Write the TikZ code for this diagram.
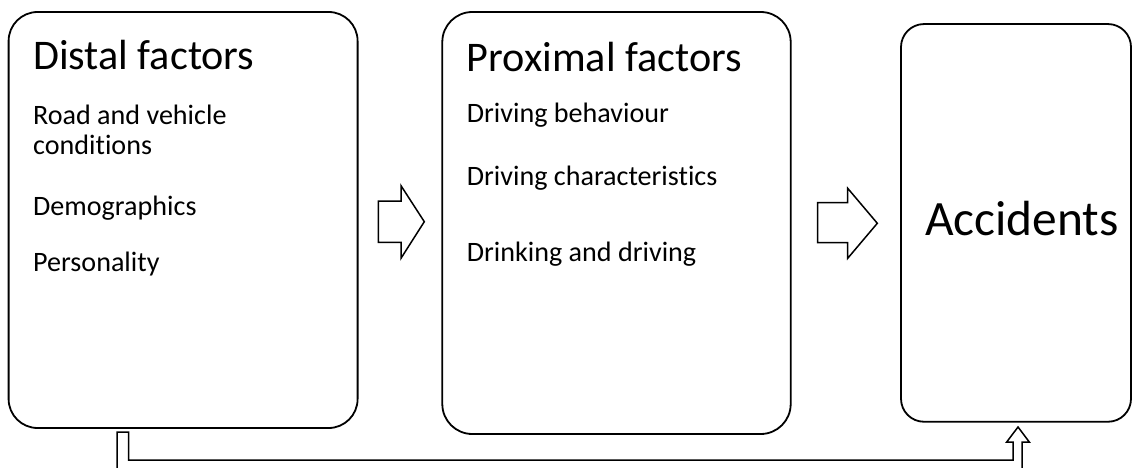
\documentclass[tikz,border=0pt]{standalone}
\usepackage{fontspec}
\setmainfont{Carlito}[Ligatures={NoCommon}]
\begin{document}
\begin{tikzpicture}[x=1pt,y=-1pt,
  box/.style={draw, line width=1.8pt, inner sep=0pt},
  title/.style={anchor=base west, inner sep=0pt, font=\fontsize{42.2}{48}\selectfont},
  item/.style={anchor=base west, inner sep=0pt, font=\fontsize{28.1}{31}\selectfont},
  blockarrow/.style={draw, line width=1.5pt, line join=miter, fill=white}]
\useasboundingbox (0,0) rectangle (1135,468);
% boxes
\node[box, rounded corners=29pt, minimum width=349pt, minimum height=416pt] (distal) at (183.1,220) {};
\node[box, rounded corners=30pt, minimum width=348.4pt, minimum height=422pt] (proximal) at (616.5,223) {};
\node[box, rounded corners=23pt, minimum width=230pt, minimum height=397.7pt] (accidents) at (1016,222.9) {};
% texts
\node[title] (t1) at (33,70) {Distal factors};
\node[item] (d1) at (33,125) {Road and vehicle};
\node[item] (d1b) at (33,154) {conditions};
\node[item] (d2) at (33,215) {Demographics};
\node[item] (d3) at (33,271.7) {Personality};
\node[title] (t2) at (466.7,71.7) {Proximal factors};
\node[item] (p1) at (466.7,123) {Driving behaviour};
\node[item] (p2) at (466.7,185.7) {Driving characteristics};
\node[item] (p3) at (466.7,261.7) {Drinking and driving};
\node[anchor=base west, inner sep=0pt, font=\fontsize{49.4}{56}\selectfont] (t3) at (925,235.7) {Accidents};
% block arrows
\draw[blockarrow] (378.3,201) -- (401,201) -- (401,185.7) -- (424.3,221.7) -- (401,258.3) -- (401,242.3) -- (378.3,242.3) -- cycle;
\draw[blockarrow] (817.7,202.7) -- (847.7,202.7) -- (847.7,188.3) -- (877.3,223.3) -- (847.7,258.3) -- (847.7,242.7) -- (817.7,242.7) -- cycle;
% bent arrow from distal to accidents
\coordinate (b0) at (117,470);
\coordinate (b9) at (1022,470);
\draw[line width=1.5pt, line join=miter] (b0) -- (117,432) -- (128.7,432) -- (128.7,460) -- (1013,460) -- (1013,442) -- (1006.7,442) -- (1018,427) -- (1029.3,442) -- (1022,442) -- (b9);
\end{tikzpicture}
\end{document}
